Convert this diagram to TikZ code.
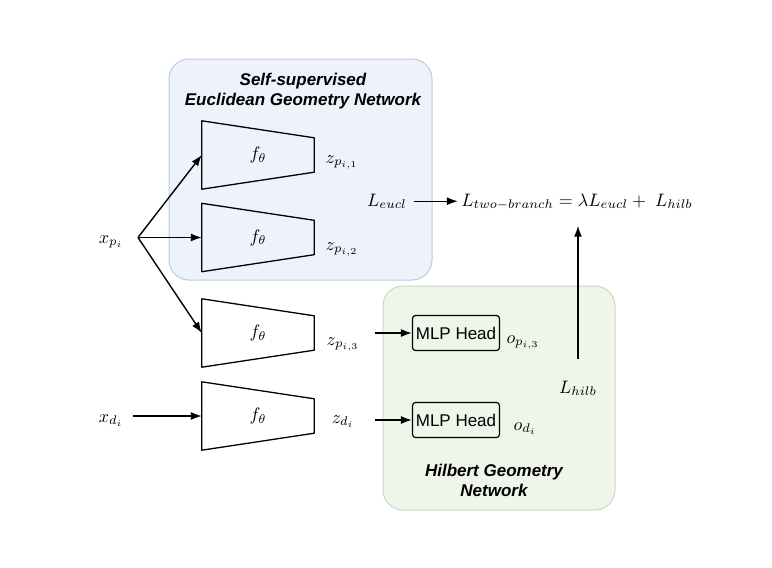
\documentclass[tikz,border=0pt]{standalone}
\usepackage{fontspec}
\newfontfamily\headfont{Liberation Sans}
\usepackage{xcolor}
\usetikzlibrary{calc,arrows.meta}
\definecolor{euclfill}{RGB}{238,242,251}
\definecolor{eucldraw}{RGB}{192,201,229}
\definecolor{hilbfill}{RGB}{240,245,234}
\definecolor{hilbdraw}{RGB}{202,217,192}
\newcommand{\mlbl}[1]{\scalebox{1.8}{$#1$}}

\begin{document}
\begin{tikzpicture}[x=1pt,y=-1pt,every node/.style={font=\normalsize},
  encoder/.style={minimum width=112pt,minimum height=68pt,inner sep=0pt},
  mlp/.style={draw,rounded corners=3pt,line width=1.2pt,minimum width=87pt,minimum height=35pt,inner sep=1pt,font=\fontsize{17}{20}\selectfont\headfont},
  group/.style={rounded corners=20pt,line width=1pt},
  title/.style={align=center,font=\fontsize{17}{20}\selectfont\headfont\bfseries\itshape},
  arr/.style={-{Latex[length=11pt,width=8pt]},line width=1.4pt}]
  \useasboundingbox (0,0) rectangle (772,568);

  % network groups
\node at (300.5,169.5) [group,draw=eucldraw,fill=euclfill,minimum width=263pt,minimum height=221pt] (euclbox) {};
\node at (499,398) [group,draw=hilbdraw,fill=hilbfill,minimum width=232pt,minimum height=224pt] (hilbbox) {};
\node at (303,91) [title] (eucltitle) {Self-supervised\\Euclidean Geometry Network};
\node at (494,480) [title] (hilbtitle) {Hilbert Geometry\\Network};

  % encoders
  \foreach \n/\y in {1/155,2/237.5,3/333,4/416}{
\node at (256,\y) [encoder,xshift=2pt] (enc\n) {\mlbl{f_\theta}};
    \draw[line width=1.3pt,line join=round] (enc\n.north west) -- ($(enc\n.north east)+(0,17)$) -- ($(enc\n.south east)+(0,-17)$) -- (enc\n.south west) -- cycle;
  }

\node at (111,243) [anchor=base] (xpi) {\mlbl{x_{p_i}}};
\node at (111,422) [anchor=base] (xdi) {\mlbl{x_{d_i}}};
  \coordinate (fan) at (138,237.5);

\node at (342,163) [anchor=base] (zp1) {\mlbl{z_{p_{i,1}}}};
\node at (342,250) [anchor=base] (zp2) {\mlbl{z_{p_{i,2}}}};
\node at (343,345) [anchor=base] (zp3) {\mlbl{z_{p_{i,3}}}};
\node at (343,423) [anchor=base] (zdi) {\mlbl{z_{d_i}}};

\node at (456,333) [mlp] (mlp1) {MLP Head};
\node at (456,420) [mlp] (mlp2) {MLP Head};
\node at (523,343) [anchor=base] (op3) {\mlbl{o_{p_{i,3}}}};
\node at (525,430) [anchor=base] (odi) {\mlbl{o_{d_i}}};

\node at (387,206) [anchor=base] (leucl) {\mlbl{L_{eucl}}};
\node at (577,206) [anchor=base] (loss) {\mlbl{L_{two-branch} = \lambda L_{eucl} + \; L_{hilb}}};
\node at (578,393) [anchor=base] (lhilb) {\mlbl{L_{hilb}}};

  \draw[arr] (fan) -- (enc1.west);
  \draw[arr] (fan) -- (enc2.west);
  \draw[arr] (fan) -- (enc3.west);
  \draw[arr] ([xshift=6pt]xdi.east |- enc4.west) -- (enc4.west);
  \draw[arr] ([xshift=-37pt]mlp1.west) -- (mlp1.west);
  \draw[arr] ([xshift=-37pt]mlp2.west) -- (mlp2.west);
  \draw[arr] ([xshift=4pt]leucl.east) -- (leucl.east -| loss.west);
  \draw[arr] ([yshift=18pt]lhilb.north) -- ([yshift=-12pt]lhilb.north |- loss.south);
\end{tikzpicture}
\end{document}
